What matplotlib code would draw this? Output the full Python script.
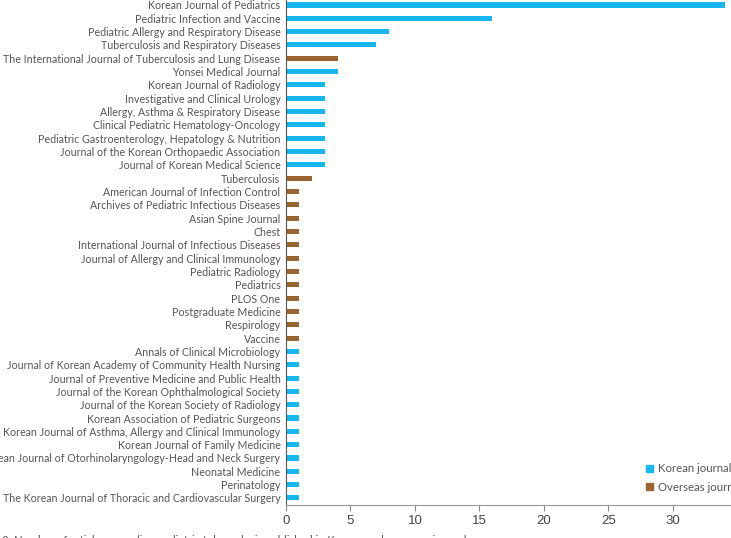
import matplotlib.pyplot as plt
from matplotlib.patches import Patch

journals = [
    "Korean Journal of Pediatrics",
    "Pediatric Infection and Vaccine",
    "Pediatric Allergy and Respiratory Disease",
    "Tuberculosis and Respiratory Diseases",
    "The International Journal of Tuberculosis and Lung Disease",
    "Yonsei Medical Journal",
    "Korean Journal of Radiology",
    "Investigative and Clinical Urology",
    "Allergy, Asthma & Respiratory Disease",
    "Clinical Pediatric Hematology-Oncology",
    "Pediatric Gastroenterology, Hepatology & Nutrition",
    "Journal of the Korean Orthopaedic Association",
    "Journal of Korean Medical Science",
    "Tuberculosis",
    "American Journal of Infection Control",
    "Archives of Pediatric Infectious Diseases",
    "Asian Spine Journal",
    "Chest",
    "International Journal of Infectious Diseases",
    "Journal of Allergy and Clinical Immunology",
    "Pediatric Radiology",
    "Pediatrics",
    "PLOS One",
    "Postgraduate Medicine",
    "Respirology",
    "Vaccine",
    "Annals of Clinical Microbiology",
    "Journal of Korean Academy of Community Health Nursing",
    "Journal of Preventive Medicine and Public Health",
    "Journal of the Korean Ophthalmological Society",
    "Journal of the Korean Society of Radiology",
    "Korean Association of Pediatric Surgeons",
    "Korean Journal of Asthma, Allergy and Clinical Immunology",
    "Korean Journal of Family Medicine",
    "Korean Journal of Otorhinolaryngology-Head and Neck Surgery",
    "Neonatal Medicine",
    "Perinatology",
    "The Korean Journal of Thoracic and Cardiovascular Surgery",
]
counts = [34, 16, 8, 7, 4, 4, 3, 3, 3, 3, 3, 3, 3, 2,
          1, 1, 1, 1, 1, 1, 1, 1, 1, 1, 1, 1,
          1, 1, 1, 1, 1, 1, 1, 1, 1, 1, 1, 1]
# K = Korean journal, O = overseas journal
origin = ["K", "K", "K", "K", "O", "K", "K", "K", "K", "K", "K", "K", "K", "O",
          "O", "O", "O", "O", "O", "O", "O", "O", "O", "O", "O", "O",
          "K", "K", "K", "K", "K", "K", "K", "K", "K", "K", "K", "K"]

blue = "#16b6ee"
brown = "#9c6430"
cols = [blue if o == "K" else brown for o in origin]

fig = plt.figure(figsize=(7.31, 5.38), dpi=100)
ax = fig.add_axes([286/731, 33/538, 445/731, 505/538])

y = list(range(len(journals)))
ax.barh(y, counts, height=0.38, color=cols)

ax.set_ylim(37.53, -0.375)
ax.set_xlim(0, 34.5)
ax.set_yticks(y)
ax.set_yticklabels(journals, fontsize=7.7, color="#555555", family="Lato")
ax.tick_params(axis="y", length=0, pad=4)
ax.set_xticks([0, 5, 10, 15, 20, 25, 30])
ax.tick_params(axis="x", length=4, color="#888888", labelsize=9.5, labelcolor="#444444")
for lab in ax.get_xticklabels():
    lab.set_family("Liberation Sans")

for s in ["top", "right"]:
    ax.spines[s].set_visible(False)
ax.spines["left"].set_color("#555555")
ax.spines["bottom"].set_color("#999999")

handles = [Patch(color=blue, label="Korean journal"),
           Patch(color=brown, label="Overseas journal")]
leg = ax.legend(handles=handles, loc="upper left", bbox_to_anchor=((636-286)/445, 52/505),
                frameon=False, handlelength=0.6, handleheight=0.6, handletextpad=0.45,
                labelspacing=0.65, prop={"family": "Lato", "size": 8.2})
for t in leg.get_texts():
    t.set_color("#555555")

fig.text(-0.025, 3/538, "Fig. 2. Number of articles regarding pediatric tuberculosis published in Korean and overseas journals.",
         va="top", ha="left", fontsize=8, color="#555555", family="Lato")

fig.savefig("out.png", dpi=100)
